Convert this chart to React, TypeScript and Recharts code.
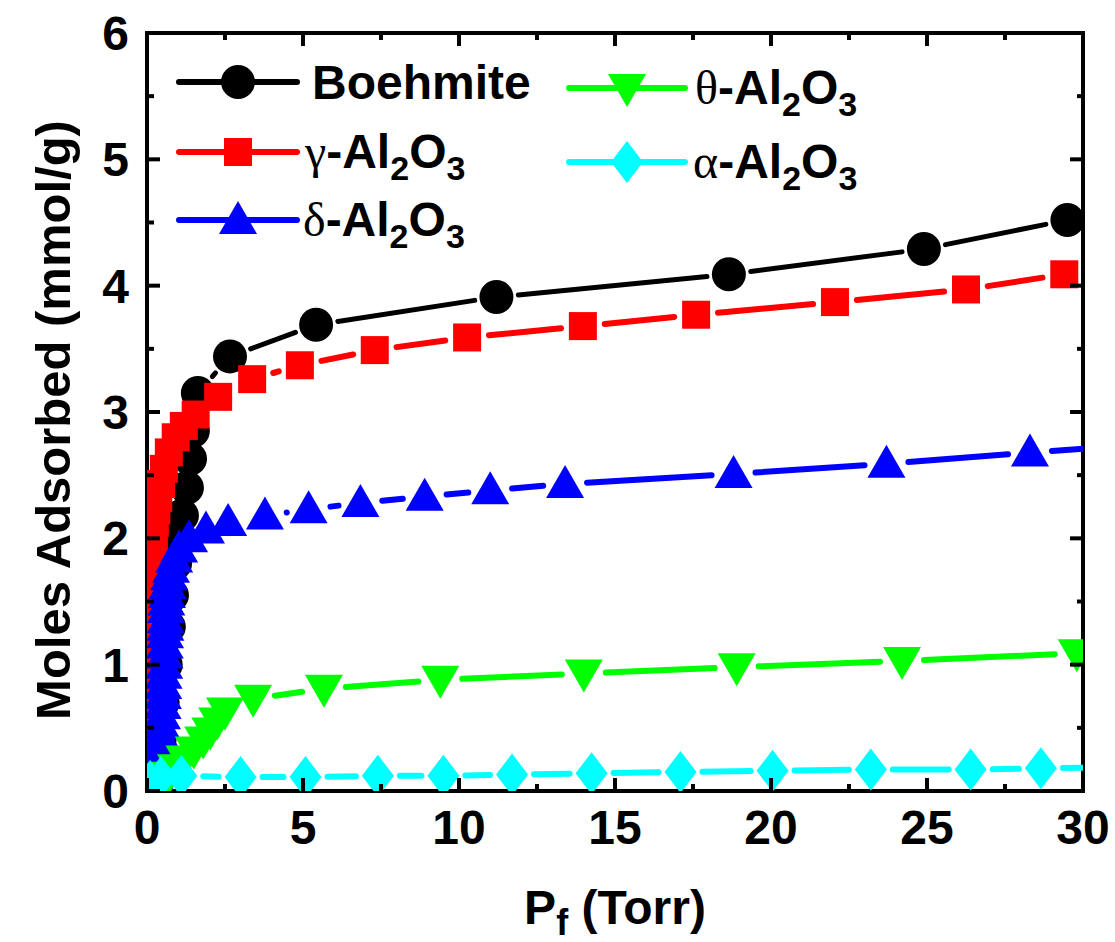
import React from 'react';
import { LineChart, Line, XAxis, YAxis } from 'recharts';

// Pf (Torr) / moles adsorbed (mmol/g)
const boehmiteX = [0.3, 0.4, 0.5, 0.6, 0.7, 0.8, 0.9, 1.0, 1.12, 1.28, 1.38, 1.47, 1.63, 2.66, 5.42, 11.2, 18.65, 24.9, 29.5];
const boehmiteY = [0.15, 0.4, 0.7, 1.0, 1.3, 1.55, 1.8, 2.0, 2.18, 2.4, 2.63, 2.85, 3.15, 3.44, 3.69, 3.91, 4.09, 4.29, 4.52];

const gammaX = [0.05, 0.07, 0.09, 0.1, 0.11, 0.12, 0.13, 0.14, 0.15, 0.16, 0.18, 0.2, 0.22, 0.25, 0.3, 0.36, 0.45, 0.54, 0.7, 0.92, 1.18, 1.56, 2.28, 3.37, 4.9, 7.3, 10.26, 13.97, 17.6, 22.05, 26.25, 29.4];
const gammaY = [0.25, 0.4, 0.55, 0.7, 0.85, 1.0, 1.15, 1.3, 1.45, 1.6, 1.75, 1.88, 2.0, 2.12, 2.22, 2.32, 2.43, 2.55, 2.68, 2.8, 2.89, 2.98, 3.12, 3.26, 3.37, 3.49, 3.59, 3.68, 3.77, 3.87, 3.97, 4.09];

const deltaX = [0.1, 0.25, 0.35, 0.4, 0.43, 0.45, 0.47, 0.48, 0.5, 0.51, 0.52, 0.53, 0.55, 0.56, 0.57, 0.58, 0.59, 0.6, 0.61, 0.62, 0.64, 0.66, 0.71, 0.77, 0.87, 1.03, 1.35, 1.89, 2.6, 3.78, 5.18, 6.84, 8.9, 11.0, 13.4, 18.8, 23.7, 28.3, 33.0];
const deltaY = [0.06, 0.12, 0.2, 0.28, 0.36, 0.44, 0.52, 0.6, 0.68, 0.76, 0.84, 0.92, 1.0, 1.08, 1.16, 1.24, 1.3, 1.36, 1.44, 1.5, 1.56, 1.63, 1.7, 1.76, 1.84, 1.92, 2.0, 2.07, 2.13, 2.18, 2.23, 2.28, 2.33, 2.38, 2.43, 2.51, 2.59, 2.68, 2.76];

const thetaX = [0.25, 0.5, 0.7, 0.93, 1.2, 1.5, 1.8, 2.03, 2.25, 2.5, 3.4, 5.67, 9.4, 14.0, 18.9, 24.2, 29.8];
const thetaY = [0.04, 0.07, 0.12, 0.18, 0.25, 0.32, 0.4, 0.47, 0.55, 0.63, 0.73, 0.81, 0.88, 0.93, 0.98, 1.03, 1.09];

const alphaX = [0.1, 0.45, 1.1, 3.0, 5.08, 7.4, 9.5, 11.7, 14.25, 17.1, 20.05, 23.2, 26.4, 28.65, 31.5];
const alphaY = [0.08, 0.11, 0.12, 0.11, 0.11, 0.12, 0.12, 0.13, 0.14, 0.15, 0.16, 0.17, 0.17, 0.18, 0.19];

const xTicks = [0, 2.5, 5, 7.5, 10, 12.5, 15, 17.5, 20, 22.5, 25, 27.5, 30];
const yTicks = [0, 0.5, 1, 1.5, 2, 2.5, 3, 3.5, 4, 4.5, 5, 5.5, 6];

const toPoints = (xs: number[], ys: number[]) => xs.map((x, i) => ({ x, y: ys[i] }));

const SANS = '"Liberation Sans", Arial, sans-serif';
const SERIF = '"Liberation Serif", "Times New Roman", serif';

type Shape = 'circle' | 'square' | 'up' | 'down' | 'diamond';

const marker = (shape: Shape, cx: number, cy: number, color: string) => {
  switch (shape) {
    case 'circle':
      return <circle cx={cx} cy={cy} r={17} fill={color} />;
    case 'square':
      return <rect x={cx - 14} y={cy - 14} width={28} height={28} fill={color} />;
    case 'up':
      return <polygon points={`${cx},${cy - 19} ${cx - 19},${cy + 14} ${cx + 19},${cy + 14}`} fill={color} />;
    case 'down':
      return <polygon points={`${cx - 19},${cy - 14} ${cx + 19},${cy - 14} ${cx},${cy + 19}`} fill={color} />;
    default:
      return <polygon points={`${cx},${cy - 21} ${cx + 16},${cy} ${cx},${cy + 21} ${cx - 16},${cy}`} fill={color} />;
  }
};

// Origin-style: line segments stop short of every symbol
const makeDot = (shape: Shape, color: string, lineWidth: number) => (props: any) => {
  const { cx, cy, index, points } = props;
  const gap = 22;
  const segs: React.ReactNode[] = [];
  if (index === 0 && points) {
    for (let i = 0; i < points.length - 1; i++) {
      const p = points[i];
      const q = points[i + 1];
      const dx = q.x - p.x;
      const dy = q.y - p.y;
      const d = Math.sqrt(dx * dx + dy * dy);
      if (d <= 2 * gap) continue;
      const ux = dx / d;
      const uy = dy / d;
      segs.push(
        <line
          key={`s${i}`}
          x1={p.x + ux * gap}
          y1={p.y + uy * gap}
          x2={q.x - ux * gap}
          y2={q.y - uy * gap}
          stroke={color}
          strokeWidth={lineWidth}
          strokeLinecap="round"
        />
      );
    }
  }
  return (
    <g key={`d${index}`}>
      {segs}
      {marker(shape, cx, cy, color)}
    </g>
  );
};

const BottomTick = ({ x, y, payload }: any) => {
  const major = payload.value % 5 === 0;
  return (
    <g>
      <line x1={x} x2={x} y1={y} y2={y - (major ? 13 : 7)} stroke="#000" strokeWidth={4} />
      {major && (
        <text x={x} y={y + 53} textAnchor="middle" fontSize={48} fontWeight="bold" fontFamily={SANS} fill="#000">
          {payload.value}
        </text>
      )}
    </g>
  );
};

const TopTick = ({ x, y, payload }: any) => {
  const major = payload.value % 5 === 0;
  return <line x1={x} x2={x} y1={y} y2={y + (major ? 13 : 7)} stroke="#000" strokeWidth={4} />;
};

const LeftTick = ({ x, y, payload }: any) => {
  const major = payload.value % 1 === 0;
  return (
    <g>
      <line x1={x} x2={x + (major ? 13 : 7)} y1={y} y2={y} stroke="#000" strokeWidth={4} />
      {major && (
        <text x={x - 18} y={y + 17} textAnchor="end" fontSize={48} fontWeight="bold" fontFamily={SANS} fill="#000">
          {payload.value}
        </text>
      )}
    </g>
  );
};

const RightTick = ({ x, y, payload }: any) => {
  const major = payload.value % 1 === 0;
  return <line x1={x} x2={x - (major ? 13 : 6)} y1={y} y2={y} stroke="#000" strokeWidth={4} />;
};

const series = [
  { name: 'Boehmite', xs: boehmiteX, ys: boehmiteY, color: '#000000', shape: 'circle' as Shape, w: 5 },
  { name: 'gamma', xs: gammaX, ys: gammaY, color: '#ff0000', shape: 'square' as Shape, w: 6 },
  { name: 'delta', xs: deltaX, ys: deltaY, color: '#0000ff', shape: 'up' as Shape, w: 6 },
  { name: 'theta', xs: thetaX, ys: thetaY, color: '#00ff00', shape: 'down' as Shape, w: 6 },
  { name: 'alpha', xs: alphaX, ys: alphaY, color: '#00ffff', shape: 'diamond' as Shape, w: 6 },
];

const Oxide = ({ x, y, greek }: { x: number; y: number; greek: string }) => (
  <text x={x} y={y} fontSize={48} fontWeight="bold" fontFamily={SANS} fill="#000">
    <tspan fontFamily={SERIF} fontWeight="normal">{greek}</tspan>
    <tspan>-Al</tspan>
    <tspan fontSize={34} dy={12}>2</tspan>
    <tspan dy={-12}>O</tspan>
    <tspan fontSize={34} dy={12}>3</tspan>
  </text>
);

const LegendRow = ({ x1, x2, y, color, shape }: { x1: number; x2: number; y: number; color: string; shape: Shape }) => (
  <g>
    <line x1={x1} x2={x2} y1={y} y2={y} stroke={color} strokeWidth={6} strokeLinecap="round" />
    {marker(shape, (x1 + x2) / 2, y, color)}
  </g>
);

export default function App() {
  const axisLine = { stroke: '#000', strokeWidth: 4, strokeLinecap: 'square' as const };
  return (
    <div style={{ position: 'absolute', left: 0, top: 0, width: 1115, height: 942, background: '#fff' }}>
      <LineChart width={1115} height={942} margin={{ top: 13, right: 12, bottom: 91, left: 87 }}>
        <XAxis
          type="number"
          dataKey="x"
          domain={[0, 30]}
          allowDataOverflow
          ticks={xTicks}
          interval={0}
          height={60}
          tickSize={0}
          tickMargin={0}
          tickLine={false}
          axisLine={axisLine}
          tick={<BottomTick />}
        />
        <XAxis
          xAxisId="top"
          orientation="top"
          type="number"
          dataKey="x"
          domain={[0, 30]}
          allowDataOverflow
          ticks={xTicks}
          interval={0}
          height={20}
          tickSize={0}
          tickMargin={0}
          tickLine={false}
          axisLine={axisLine}
          tick={<TopTick />}
        />
        <YAxis
          type="number"
          domain={[0, 6]}
          allowDataOverflow
          ticks={yTicks}
          interval={0}
          width={60}
          tickSize={0}
          tickMargin={0}
          tickLine={false}
          axisLine={axisLine}
          tick={<LeftTick />}
        />
        <YAxis
          yAxisId="right"
          orientation="right"
          type="number"
          domain={[0, 6]}
          allowDataOverflow
          ticks={yTicks}
          interval={0}
          width={20}
          tickSize={0}
          tickMargin={0}
          tickLine={false}
          axisLine={axisLine}
          tick={<RightTick />}
        />
        {series.map((s) => (
          <Line
            key={s.name}
            data={toPoints(s.xs, s.ys)}
            dataKey="y"
            stroke="none"
            dot={makeDot(s.shape, s.color, s.w)}
            activeDot={false}
            isAnimationActive={false}
          />
        ))}
      </LineChart>
      <svg width={1115} height={942} style={{ position: 'absolute', left: 0, top: 0, pointerEvents: 'none' }}>
        <text
          transform="translate(70, 420) rotate(-90)"
          textAnchor="middle"
          fontSize={49}
          fontWeight="bold"
          fontFamily={SANS}
          fill="#000"
        >
          Moles Adsorbed (mmol/g)
        </text>
        <text x={615} y={924} textAnchor="middle" fontSize={48} fontWeight="bold" fontFamily={SANS} fill="#000">
          P<tspan fontSize={36} dy={11}>f</tspan>
          <tspan dy={-11}> (Torr)</tspan>
        </text>

        <LegendRow x1={179} x2={297} y={82} color="#000000" shape="circle" />
        <text x={312} y={99} fontSize={48} fontWeight="bold" fontFamily={SANS} fill="#000">Boehmite</text>
        <LegendRow x1={179} x2={297} y={152} color="#ff0000" shape="square" />
        <Oxide x={305} y={168} greek="γ" />
        <LegendRow x1={179} x2={297} y={220} color="#0000ff" shape="up" />
        <Oxide x={303} y={236} greek="δ" />
        <LegendRow x1={569} x2={685} y={88} color="#00ff00" shape="down" />
        <Oxide x={695} y={104} greek="θ" />
        <LegendRow x1={569} x2={685} y={162} color="#00ffff" shape="diamond" />
        <Oxide x={693} y={178} greek="α" />
      </svg>
    </div>
  );
}
